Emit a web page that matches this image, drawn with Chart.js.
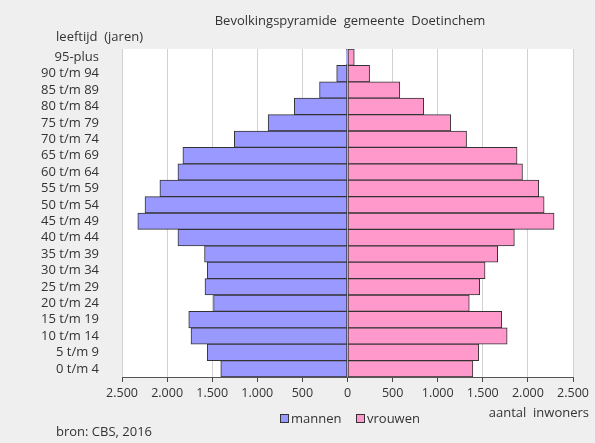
<!DOCTYPE html>
<html>
<head>
<meta charset="utf-8">
<script src="https://cdn.jsdelivr.net/npm/chart.js@4/dist/chart.umd.min.js"></script>
<style>
  html, body { margin: 0; padding: 0; background: #efefef; }
  canvas { display: block; }
</style>
</head>
<body>
<canvas id="pyramide" width="595" height="443"></canvas>
<script>
/* global Chart */

// leeftijdsklassen, van boven naar beneden
const categories = ['95-plus', '90 t/m 94', '85 t/m 89', '80 t/m 84', '75 t/m 79',
  '70 t/m 74', '65 t/m 69', '60 t/m 64', '55 t/m 59', '50 t/m 54', '45 t/m 49',
  '40 t/m 44', '35 t/m 39', '30 t/m 34', '25 t/m 29', '20 t/m 24', '15 t/m 19',
  '10 t/m 14', '5 t/m 9', '0 t/m 4'];

const mannen = [12, 120, 310, 590, 880, 1255, 1825, 1880, 2080, 2245, 2325,
  1880, 1585, 1555, 1580, 1485, 1760, 1735, 1555, 1405];

const vrouwen = [75, 245, 580, 845, 1145, 1320, 1880, 1940, 2120, 2180, 2290,
  1850, 1665, 1525, 1465, 1350, 1710, 1770, 1455, 1390];

const xMin = -2500;
const xMax = 2500;
const xStep = 500;

const FONT = '"Open Sans", sans-serif';
const TEXT = '#333';

function formatNL(v) {
  return Math.abs(v).toString().replace(/\B(?=(\d{3})+(?!\d))/g, '.');
}

// achtergrond van het plotvlak + losse teksten
const extras = {
  id: 'extras',
  beforeDraw(chart) {
    const ctx = chart.ctx;
    const a = chart.chartArea;
    ctx.save();
    ctx.fillStyle = '#ffffff';
    ctx.fillRect(a.left, a.top, a.right - a.left, a.bottom - a.top);
    ctx.restore();
  },
  afterDraw(chart) {
    const ctx = chart.ctx;
    ctx.save();
    ctx.fillStyle = TEXT;
    ctx.font = '13px ' + FONT;
    ctx.textBaseline = 'middle';

    ctx.textAlign = 'center';
    ctx.fillText('Bevolkingspyramide  gemeente  Doetinchem', 350, 21);

    ctx.textAlign = 'right';
    ctx.fillText('leeftijd  (jaren)', 143, 37);
    ctx.fillText('aantal  inwoners', 589, 413);

    ctx.textAlign = 'left';
    ctx.fillText('bron: CBS, 2016', 56, 432);

    // legenda
    const items = [
      { label: 'mannen', color: '#9999ff', x: 280 },
      { label: 'vrouwen', color: '#ff99cc', x: 356 }
    ];
    items.forEach(function (it) {
      ctx.fillStyle = it.color;
      ctx.fillRect(it.x + 0.5, 414.5, 8, 8);
      ctx.strokeStyle = '#333';
      ctx.lineWidth = 1;
      ctx.strokeRect(it.x + 0.5, 414.5, 8, 8);
      ctx.fillStyle = TEXT;
      ctx.fillText(it.label, it.x + 11, 419);
    });
    ctx.restore();
  }
};

new Chart(document.getElementById('pyramide'), {
  type: 'bar',
  data: {
    labels: categories,
    datasets: [{
      label: 'mannen',
      data: mannen.map(function (v) { return -v; }),
      backgroundColor: '#9999ff',
      borderColor: '#333',
      borderWidth: 1,
      borderSkipped: false
    },
    {
      label: 'vrouwen',
      data: vrouwen,
      backgroundColor: '#ff99cc',
      borderColor: '#333',
      borderWidth: 1,
      borderSkipped: false
    }]
  },
  options: {
    indexAxis: 'y',
    responsive: false,
    animation: false,
    barPercentage: 1,
    categoryPercentage: 1,
    layout: { padding: { top: 49, right: 22, left: 0, bottom: 0 } },
    plugins: {
      legend: { display: false },
      tooltip: { enabled: false },
      title: { display: false }
    },
    scales: {
      x: {
        stacked: true,
        min: xMin,
        max: xMax,
        grid: { color: '#d2d2d2', tickColor: '#444', tickLength: 5 },
        border: { color: '#555' },
        ticks: {
          stepSize: xStep,
          maxRotation: 0,
          autoSkip: false,
          padding: 4,
          color: TEXT,
          font: { family: FONT, size: 12.5 },
          callback: function (v) { return formatNL(v); }
        },
        afterFit: function (scale) { scale.height = 66; }
      },
      y: {
        stacked: true,
        grid: { display: false },
        border: { display: false },
        ticks: {
          autoSkip: false,
          padding: 15,
          color: TEXT,
          font: { family: FONT, size: 13 }
        },
        afterFit: function (scale) { scale.width = 122; }
      }
    }
  },
  plugins: [extras]
});
</script>
</body>
</html>
